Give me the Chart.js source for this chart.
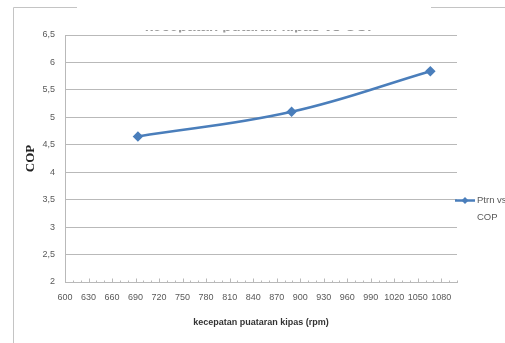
<!DOCTYPE html>
<html>
<head>
<meta charset="utf-8">
<script src="https://cdn.jsdelivr.net/npm/chart.js@4/dist/chart.umd.min.js"></script>
<style>
  html, body { margin: 0; padding: 0; background: #fff; }
  #wrap { width: 505px; height: 343px; position: relative; }
</style>
</head>
<body>
<div id="wrap"><canvas id="c" width="505" height="343"></canvas></div>
<script>
// Fan speed (rpm) against coefficient of performance
const rpm = [693, 889, 1066];
const cop = [4.65, 5.10, 5.84];
const seriesName = ['Ptrn vs', 'COP'];
const chartTitle = 'kecepatan putaran kipas vs COP';
const xTitle = 'kecepatan puataran kipas (rpm)';
const yTitle = 'COP';
const xMin = 600, xMax = 1100, xStep = 30, xLastLabel = 1080;
const yMin = 2, yMax = 6.5, yStep = 0.5;

const blue = '#4a7ebb';
const gridGrey = '#b9b9b9';
const labelGrey = '#595959';

// Outer frame, clipped title and inward tick marks
const decor = {
  id: 'decor',
  beforeDraw(chart) {
    const ctx = chart.ctx;
    ctx.save();
    ctx.strokeStyle = '#c4c4c4';
    ctx.lineWidth = 1;
    ctx.beginPath();
    ctx.moveTo(13.5, 343); ctx.lineTo(13.5, 7.5); ctx.lineTo(77, 7.5);
    ctx.moveTo(431, 7.5); ctx.lineTo(505, 7.5);
    ctx.stroke();
    // title, only its lower edge shows below the frame gap
    ctx.beginPath();
    ctx.rect(0, 30, 505, 2.5);
    ctx.clip();
    ctx.fillStyle = '#9a9a9a';
    ctx.font = 'bold 15px "Liberation Sans", sans-serif';
    ctx.textAlign = 'center';
    ctx.textBaseline = 'alphabetic';
    ctx.fillText(chartTitle, 261, 31);
    ctx.restore();
  },
  afterDraw(chart) {
    const ctx = chart.ctx;
    const xs = chart.scales.x;
    const ys = chart.scales.y;
    const yb = Math.round(ys.getPixelForValue(yMin)) + 0.5;
    ctx.save();
    ctx.strokeStyle = gridGrey;
    ctx.lineWidth = 1;
    ctx.beginPath();
    for (let v = xMin; v <= xMax; v += 10) {
      const px = Math.round(xs.getPixelForValue(v)) + 0.5;
      const len = ((v - xMin) % xStep === 0) ? 4 : 2;
      ctx.moveTo(px, yb); ctx.lineTo(px, yb - len);
    }
    ctx.stroke();

    // legend entry on the right
    const ly = Math.round(ys.getPixelForValue(3.5)) + 0.5;
    ctx.strokeStyle = blue;
    ctx.lineWidth = 2.5;
    ctx.beginPath();
    ctx.moveTo(455, ly); ctx.lineTo(475, ly);
    ctx.stroke();
    ctx.fillStyle = blue;
    ctx.beginPath();
    ctx.moveTo(465, ly - 3.5); ctx.lineTo(468.5, ly); ctx.lineTo(465, ly + 3.5); ctx.lineTo(461.5, ly);
    ctx.closePath(); ctx.fill();
    ctx.fillStyle = labelGrey;
    ctx.font = '9.5px "Liberation Sans", sans-serif';
    ctx.textAlign = 'left';
    ctx.textBaseline = 'middle';
    ctx.fillText(seriesName[0], 477, ly);
    ctx.fillText(seriesName[1], 477, ly + 16.5);
    ctx.restore();
  }
};

new Chart(document.getElementById('c'), {
  type: 'scatter',
  data: {
    datasets: [{
      label: seriesName.join(' '),
      data: rpm.map((x, i) => ({ x: x, y: cop[i] })),
      showLine: true,
      tension: 0.4,
      borderColor: blue,
      backgroundColor: blue,
      borderWidth: 2.5,
      pointStyle: 'rectRot',
      pointRadius: 3.5,
      pointHoverRadius: 3.5
    }]
  },
  options: {
    responsive: false,
    animation: false,
    devicePixelRatio: 1,
    layout: { padding: { left: 0, right: 48, top: 35, bottom: 0 } },
    plugins: { legend: { display: false }, tooltip: { enabled: false }, title: { display: false } },
    scales: {
      x: {
        type: 'linear',
        min: xMin, max: xMax,
        afterBuildTicks(scale) {
          const t = [];
          for (let v = xMin; v <= xLastLabel; v += xStep) t.push({ value: v });
          scale.ticks = t;
        },
        afterFit(scale) { scale.height = 61; },
        grid: { display: false, drawTicks: false },
        border: { display: true, color: gridGrey, width: 1 },
        ticks: {
          autoSkip: false, maxRotation: 0, padding: 10,
          color: labelGrey,
          font: { family: '"Liberation Sans", sans-serif', size: 9 },
          callback: v => String(v)
        },
        title: {
          display: true, text: xTitle, color: '#333',
          font: { family: '"Liberation Sans", sans-serif', size: 9, weight: 'bold' },
          padding: { top: 0, bottom: 15 }
        }
      },
      y: {
        min: yMin, max: yMax,
        afterFit(scale) { scale.width = 65; },
        grid: { color: gridGrey, lineWidth: 1, drawTicks: false },
        border: { display: true, color: gridGrey, width: 1 },
        ticks: {
          stepSize: yStep, padding: 10,
          color: labelGrey,
          font: { family: '"Liberation Sans", sans-serif', size: 9 },
          callback: v => String(v).replace('.', ',')
        },
        title: {
          display: true, text: yTitle, color: '#222',
          font: { family: '"Liberation Serif", serif', size: 13, weight: 'bold' },
          padding: { top: 23, bottom: 0 }
        }
      }
    }
  },
  plugins: [decor]
});
</script>
</body>
</html>
